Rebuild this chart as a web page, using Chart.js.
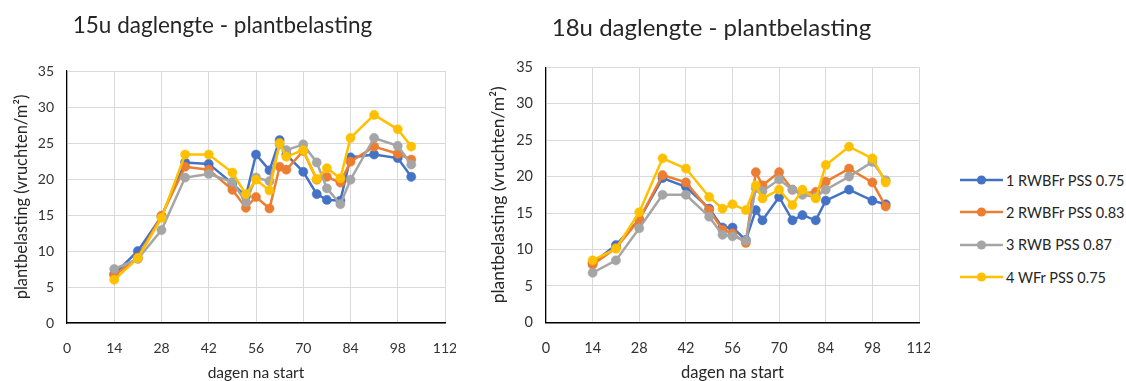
<!DOCTYPE html>
<html>
<head>
<meta charset="utf-8">
<script src="https://cdn.jsdelivr.net/npm/chart.js@4/dist/chart.umd.min.js"></script>
<style>
  html, body { margin: 0; padding: 0; background: #fff; overflow: hidden; }
  body { width: 1126px; height: 381px; position: relative; font-family: Lato, "Liberation Sans", sans-serif; }
  .box { position: absolute; top: 0; height: 381px; }
  #legend { position: absolute; left: 958px; top: 164px; color: #262626; font-size: 14.5px; }
  .item { height: 32.3px; display: flex; align-items: center; white-space: nowrap; }
  .item svg { margin-right: 2px; }
</style>
</head>
<body>
<div class="box" id="b1" style="left:0px;width:456px"><canvas id="c1"></canvas></div>
<div class="box" id="b2" style="left:486px;width:444px"><canvas id="c2"></canvas></div>
<div id="legend"></div>
<script>
// Days since start at which the plants were counted
const days = [14, 21, 28, 35, 42, 49, 53, 56, 60, 63, 65, 70, 74, 77, 81, 84, 91, 98, 102];

const seriesNames = ['1 RWBFr PSS 0.75', '2 RWBFr PSS 0.83', '3 RWB PSS 0.87', '4 WFr PSS 0.75'];
const seriesColors = ['#4472C4', '#ED7D31', '#A5A5A5', '#FFC000'];

// 15 hour day length - fruit load (fruits/m2)
const day15_s1 = [6.8, 10.0, 14.8, 22.3, 22.1, 19.4, 17.6, 23.4, 21.2, 25.4, 23.4, 21.0, 17.9, 17.1, 17.0, 23.0, 23.4, 22.9, 20.3];
const day15_s2 = [6.6, 9.1, 14.9, 21.7, 21.3, 18.5, 16.0, 17.5, 15.9, 21.7, 21.3, 23.9, 19.9, 20.3, 19.5, 22.4, 24.5, 23.5, 22.7];
const day15_s3 = [7.5, 8.9, 12.9, 20.2, 20.7, 19.6, 16.8, 20.2, 19.7, 24.8, 24.0, 24.8, 22.3, 18.7, 16.5, 19.9, 25.7, 24.6, 22.0];
const day15_s4 = [6.0, 9.0, 14.6, 23.4, 23.4, 20.9, 17.9, 19.9, 18.4, 25.0, 23.1, 24.0, 20.0, 21.5, 20.1, 25.7, 28.9, 26.9, 24.5];

// 18 hour day length - fruit load (fruits/m2)
const day18_s1 = [8.1, 10.6, 14.1, 19.8, 18.6, 15.6, 13.0, 13.0, 11.3, 15.4, 14.0, 17.2, 14.0, 14.7, 14.0, 16.7, 18.2, 16.7, 16.2];
const day18_s2 = [7.9, 10.2, 14.1, 20.2, 19.2, 15.4, 12.7, 12.2, 10.9, 20.6, 18.8, 20.6, 18.2, 17.7, 17.9, 19.3, 21.1, 19.2, 15.9];
const day18_s3 = [6.8, 8.5, 12.9, 17.5, 17.5, 14.5, 12.0, 11.8, 11.2, 18.4, 18.0, 19.6, 18.2, 17.5, 17.2, 18.2, 20.0, 22.0, 19.5];
const day18_s4 = [8.5, 10.1, 15.1, 22.5, 21.1, 17.2, 15.6, 16.2, 15.4, 18.8, 17.0, 18.2, 16.1, 18.2, 17.0, 21.6, 24.1, 22.5, 19.2];

const xTicks = [0, 14, 28, 42, 56, 70, 84, 98, 112];
const yTicks = [0, 5, 10, 15, 20, 25, 30, 35];

const FONT = 'Lato, "Liberation Sans", sans-serif';
const TEXT = '#333333';
const GRID = '#d9d9d9';

function makeDatasets(values) {
  return values.map((vals, i) => ({
    label: seriesNames[i],
    data: days.map((d, k) => ({ x: d, y: vals[k] })),
    borderColor: seriesColors[i],
    backgroundColor: seriesColors[i],
    pointBackgroundColor: seriesColors[i],
    pointBorderColor: seriesColors[i],
    borderWidth: 2.5,
    pointRadius: 4.6,
    pointBorderWidth: 0.5,
    tension: 0,
    order: values.length - i   // later series drawn on top
  }));
}

function makeChart(id, title, values, geo) {
  return new Chart(document.getElementById(id), {
    type: 'line',
    data: { datasets: makeDatasets(values) },
    options: {
      responsive: true,
      maintainAspectRatio: false,
      animation: false,
      events: [],
      layout: { padding: { left: geo.padLeft, right: geo.padRight, top: 0, bottom: 0 } },
      plugins: {
        legend: { display: false },
        tooltip: { enabled: false },
        title: {
          display: true,
          text: title,
          color: '#262626',
          font: { family: FONT, size: geo.titleSize, weight: 'normal', lineHeight: 1.2 },
          padding: { top: geo.titleTop, bottom: geo.titleBottom }
        }
      },
      scales: {
        x: {
          type: 'linear',
          min: 0, max: 112,
          afterBuildTicks: s => { s.ticks = xTicks.map(v => ({ value: v })); },
          ticks: { color: TEXT, font: { family: FONT, size: geo.tickSize }, padding: 17, maxRotation: 0 },
          grid: { color: GRID, lineWidth: 1, drawTicks: false },
          border: { display: true, color: '#000', width: 1.6 },
          title: {
            display: true, text: 'dagen na start', color: '#262626',
            font: { family: FONT, size: geo.axisTitleSize - 1, lineHeight: 1 }, padding: { top: 0, bottom: 0 }
          },
          afterFit: s => {
            s.height = geo.xHeight;
            // the layout padding already leaves room for the end labels
            s.paddingLeft = 0;
            s.paddingRight = 0;
          }
        },
        y: {
          type: 'linear',
          min: 0, max: 35,
          afterBuildTicks: s => { s.ticks = yTicks.map(v => ({ value: v })); },
          ticks: { color: TEXT, font: { family: FONT, size: geo.tickSize }, padding: 13 },
          grid: { color: GRID, lineWidth: 1, drawTicks: false },
          border: { display: true, color: '#000', width: 1.2 },
          title: {
            display: true, text: 'plantbelasting (vruchten/m²)', color: '#262626',
            font: { family: FONT, size: geo.axisTitleSize, lineHeight: 1 }, padding: { top: geo.yTitlePad, bottom: 0 }
          },
          afterFit: s => { s.width = geo.yWidth; s.paddingTop = 0; s.paddingBottom = 0; }
        }
      }
    }
  });
}

makeChart('c1', '15u daglengte - plantbelasting', [day15_s1, day15_s2, day15_s3, day15_s4],
  { padLeft: 0, padRight: 11, titleSize: 22.5, titleTop: 12, titleBottom: 32, xHeight: 58, yWidth: 67,
    yTitlePad: 13.75, tickSize: 14, axisTitleSize: 16.5 });
makeChart('c2', '18u daglengte - plantbelasting', [day18_s1, day18_s2, day18_s3, day18_s4],
  { padLeft: 18, padRight: 11, titleSize: 24, titleTop: 13.6, titleBottom: 24.9, xHeight: 58.7, yWidth: 42,
    yTitlePad: -14.75, tickSize: 14.5, axisTitleSize: 17.5 });

// Shared legend: line with a circle marker, followed by the series name
const legend = document.getElementById('legend');
seriesNames.forEach((name, i) => {
  const row = document.createElement('div');
  row.className = 'item';
  const c = seriesColors[i];
  row.innerHTML =
    '<svg width="46" height="12"><line x1="2" y1="6" x2="45" y2="6" stroke="' + c + '" stroke-width="2.5"/>' +
    '<circle cx="23.5" cy="6" r="4.6" fill="' + c + '"/></svg>';
  const label = document.createElement('span');
  label.textContent = name;
  row.appendChild(label);
  legend.appendChild(row);
});
</script>
</body>
</html>
